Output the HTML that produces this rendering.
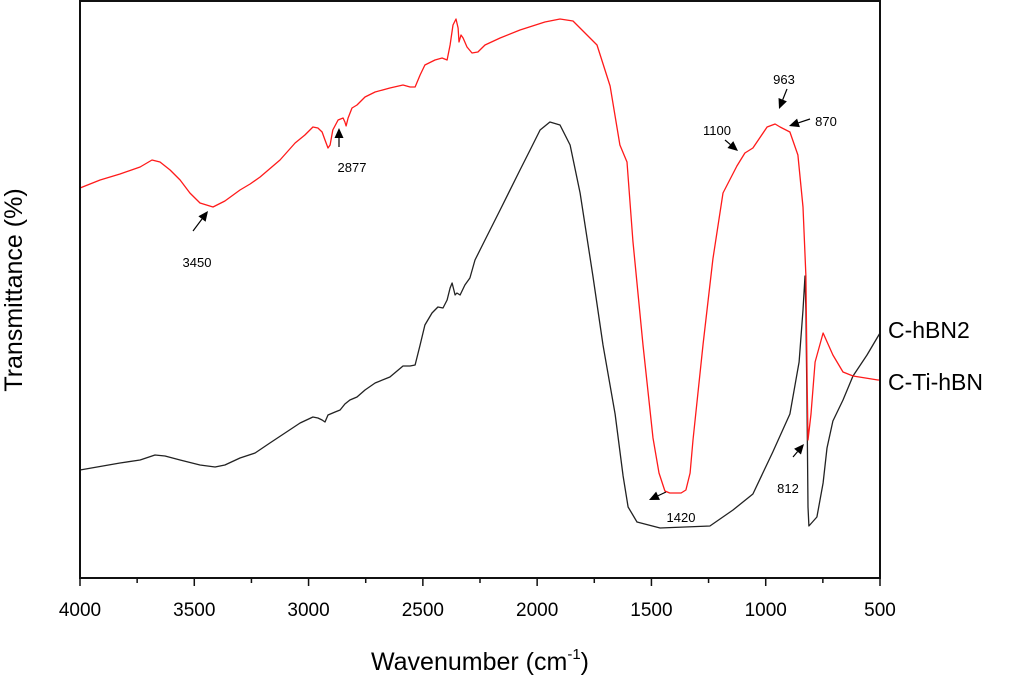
<!DOCTYPE html>
<html><head><meta charset="utf-8"><style>
body{margin:0;background:#fff}
svg text{font-family:"Liberation Sans",Arial,sans-serif}
</style></head><body>
<svg id="chart" width="1024" height="681" viewBox="0 0 1024 681" xmlns="http://www.w3.org/2000/svg">
<rect x="0" y="0" width="1024" height="681" fill="#fff"/>
<g id="plot"></g>
<g id="axes"></g>
<text x="22" y="290" font-size="25" text-anchor="middle" transform="rotate(-90 22 290)">Transmittance (%)</text>
<text x="480" y="670" font-size="25" text-anchor="middle">Wavenumber (cm<tspan font-size="15" dy="-11">-1</tspan><tspan dy="11">)</tspan></text>
<text x="888" y="338" font-size="23">C-hBN2</text>
<text x="888" y="390" font-size="23">C-Ti-hBN</text>
<g id="annots" font-size="13"></g>
</svg>
<script>
const redW=[4000,3912,3825,3737,3685,3650,3606,3562,3519,3475,3418,3366,3300,3256,3212,3125,3059,3016,2981,2959,2941,2928,2915,2906,2894,2871,2849,2841,2836,2827,2810,2788,2753,2709,2644,2587,2556,2534,2512,2491,2447,2416,2394,2381,2368,2355,2346,2342,2333,2324,2307,2285,2259,2228,2162,2075,1966,1900,1843,1738,1681,1638,1607,1581,1537,1493,1467,1441,1420,1370,1349,1331,1318,1274,1231,1187,1126,1091,1056,994,959,937,894,859,837,824,819,815,802,784,749,706,662,618,509,500];
const redT=[390,398,404,411,418,416,408,398,385,375,371,377,388,394,401,418,435,443,451,450,446,438,430,433,448,458,460,456,452,460,470,473,481,486,490,493,491,491,503,513,518,520,518,533,553,559,550,536,543,540,531,525,526,533,540,548,556,559,557,533,492,433,416,337,233,140,105,87,85,85,88,105,138,234,319,385,412,425,430,451,454,451,446,423,371,302,198,138,164,216,245,223,206,202,198,198];
const blkW=[4000,3825,3737,3672,3628,3562,3475,3409,3366,3300,3234,3169,3103,3037,2981,2959,2941,2928,2915,2884,2862,2841,2819,2788,2753,2709,2644,2587,2556,2534,2512,2491,2460,2434,2412,2394,2381,2372,2359,2351,2337,2316,2294,2272,2228,2162,2075,2031,1987,1944,1900,1856,1812,1756,1712,1659,1624,1602,1563,1462,1244,1143,1056,969,894,854,837,828,824,819,815,811,776,749,732,706,662,618,557,500];
const blkT=[108,115,118,123,122,118,113,111,113,120,125,135,145,155,161,160,158,156,163,166,168,174,178,181,188,195,201,212,212,213,233,253,265,271,270,278,290,295,283,285,283,293,300,318,338,368,408,428,448,456,453,433,385,302,233,164,102,71,56,50,52,68,84,126,164,216,268,302,268,164,71,52,61,95,130,157,178,202,223,245];
const xTicks=[4000,3500,3000,2500,2000,1500,1000,500];
const xMinor=[3750,3250,2750,2250,1750,1250,750];
const L=80,R=880,T=1,B=578;
const xs=w=>L+(4000-w)*(R-L)/3500;
const ys=t=>B-t;
const NS='http://www.w3.org/2000/svg';
function mk(tag,attrs,parent){const e=document.createElementNS(NS,tag);for(const k in attrs)e.setAttribute(k,attrs[k]);parent.appendChild(e);return e;}
const plot=document.getElementById('plot'),axes=document.getElementById('axes');
function line(W,Tv,color,name){
  const d=W.map((w,i)=>(i?'L':'M')+xs(w).toFixed(1)+','+ys(Tv[i]).toFixed(1)).join('');
  const p=mk('path',{d:d,fill:'none',stroke:color,'stroke-width':1.3,'stroke-linejoin':'round'},plot);
  
  
}
line(blkW,blkT,'#222','series-c-ti-hbn');
line(redW,redT,'#ff1a1a','series-c-hbn2');
const fr=mk('rect',{x:L,y:T,width:R-L,height:B-T,fill:'none',stroke:'#111','stroke-width':2},axes);


xTicks.forEach(v=>{
  const t=mk('line',{x1:xs(v),x2:xs(v),y1:B,y2:B+8,stroke:'#111','stroke-width':1.5},axes);
  
  
  const tx=mk('text',{x:xs(v),y:B+38,'font-size':19,'text-anchor':'middle'},axes);
  tx.textContent=v;
  
  
});
xMinor.forEach(v=>{
  const t=mk('line',{x1:xs(v),x2:xs(v),y1:B,y2:B+5,stroke:'#111','stroke-width':1.5},axes);
  
  
});
const an=document.getElementById('annots');
const annotations=[
 {t:'3450',tx:197,ty:267,x1:193,y1:231,x2:208,y2:211},
 {t:'2877',tx:352,ty:172,x1:339,y1:147,x2:339,y2:128},
 {t:'1100',tx:717,ty:135,x1:725,y1:140,x2:738,y2:151},
 {t:'963',tx:784,ty:84,x1:787,y1:89,x2:779,y2:109},
 {t:'870',tx:826,ty:126,x1:810,y1:119,x2:789,y2:126},
 {t:'1420',tx:681,ty:522,x1:666,y1:492,x2:649,y2:500},
 {t:'812',tx:788,ty:493,x1:793,y1:457,x2:804,y2:444}
];
annotations.forEach(a=>{
  const g=mk('g',{},an);
  
  
  const tx=mk('text',{x:a.tx,y:a.ty,'text-anchor':'middle'},g);tx.textContent=a.t;
  const dx=a.x2-a.x1,dy=a.y2-a.y1,len=Math.hypot(dx,dy),ux=dx/len,uy=dy/len;
  const hl=10,hw=4.5,bx=a.x2-ux*hl,by=a.y2-uy*hl;
  mk('line',{x1:a.x1,y1:a.y1,x2:bx,y2:by,stroke:'#000','stroke-width':1.2},g);
  mk('polygon',{points:`${a.x2},${a.y2} ${bx-uy*hw},${by+ux*hw} ${bx+uy*hw},${by-ux*hw}`,fill:'#000'},g);
});
</script>
</body></html>
